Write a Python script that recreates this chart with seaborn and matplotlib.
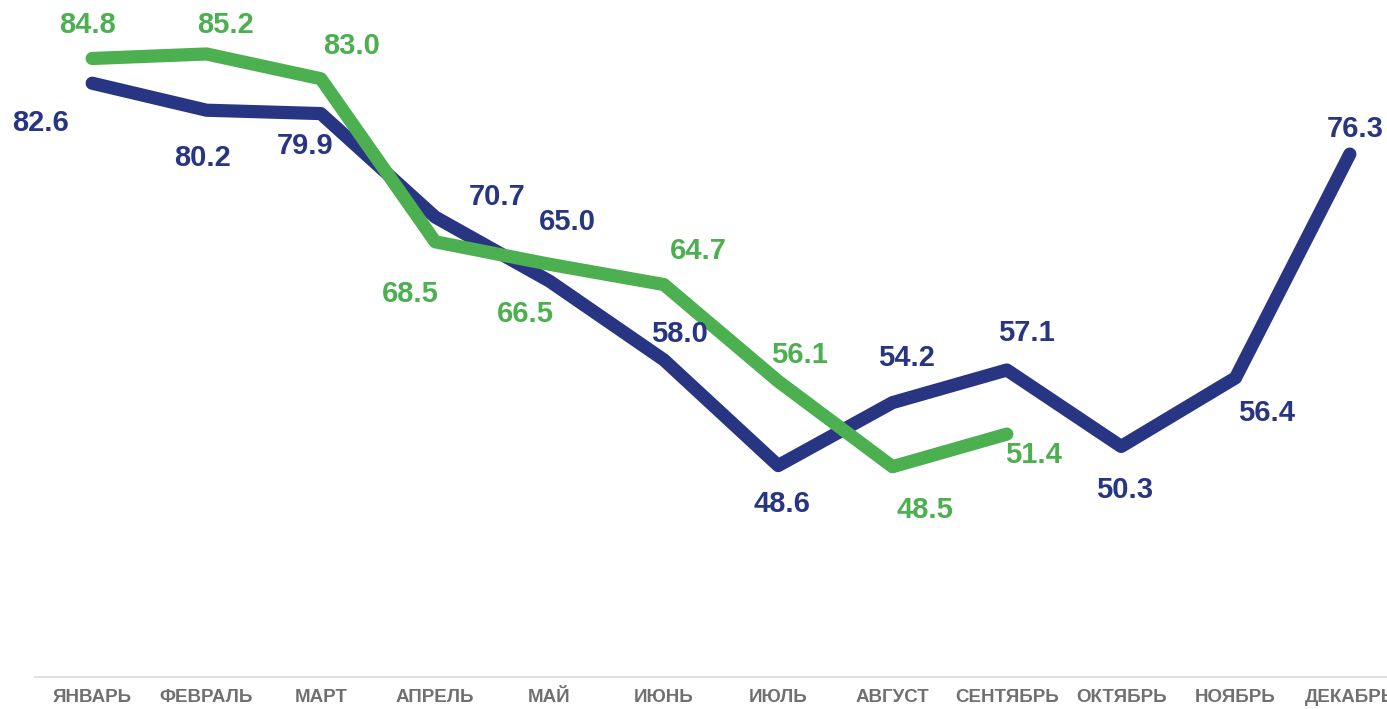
import pandas as pd
import seaborn as sns
import matplotlib.pyplot as plt

# Monthly values
months = ['ЯНВАРЬ', 'ФЕВРАЛЬ', 'МАРТ', 'АПРЕЛЬ', 'МАЙ', 'ИЮНЬ',
          'ИЮЛЬ', 'АВГУСТ', 'СЕНТЯБРЬ', 'ОКТЯБРЬ', 'НОЯБРЬ', 'ДЕКАБРЬ']
navy_values = [82.6, 80.2, 79.9, 70.7, 65.0, 58.0, 48.6, 54.2, 57.1, 50.3, 56.4, 76.3]
green_values = [84.8, 85.2, 83.0, 68.5, 66.5, 64.7, 56.1, 48.5, 51.4]

navy = '#283583'
green = '#4CAF50'

# label offsets in pixels (dx, dy) for each point
navy_offsets = [(-52, -40), (-4, -48), (-16, -32), (62, 20), (18, 59), (16, 26),
                (4, -38), (14, 45), (20, 37), (3, -44), (31, -35), (5, 25)]
green_offsets = [(-5, 33), (19, 29), (31, 33), (-25, -52), (-24, -50), (34, 34),
                 (21, 26), (32, -43), (27, -21)]

df = pd.concat([
    pd.DataFrame({'month': range(len(navy_values)), 'value': navy_values, 'series': 'navy'}),
    pd.DataFrame({'month': range(len(green_values)), 'value': green_values, 'series': 'green'}),
])

sns.set_style('white')
plt.rcParams['font.family'] = ['Liberation Sans', 'DejaVu Sans']

fig = plt.figure(figsize=(13.87, 7.09), dpi=100)
ax = fig.add_axes([35 / 1387, 32 / 709, 1372 / 1387, 677 / 709])

sns.lineplot(data=df, x='month', y='value', hue='series', hue_order=['navy', 'green'],
             palette=[navy, green], linewidth=9.5, legend=False, ax=ax,
             solid_capstyle='round', solid_joinstyle='round')

for vals, offs, col in [(navy_values, navy_offsets, navy), (green_values, green_offsets, green)]:
    for i, (v, (dx, dy)) in enumerate(zip(vals, offs)):
        ax.annotate(f'{v:.1f}', (i, v), xytext=(dx, dy), textcoords='offset pixels',
                    ha='center', va='center', fontsize=21, fontweight='bold', color=col,
                    annotation_clip=False)

ax.set_xlim(-0.5, 11.5)
ax.set_ylim(29.8, 90)
ax.set_xticks(range(len(months)))
ax.set_xticklabels(months, fontsize=13.5, fontweight='bold', color='#707070')
ax.tick_params(axis='x', length=0, pad=9)
ax.set_yticks([])
ax.set_xlabel(None)
ax.set_ylabel(None)
for side in ['top', 'left', 'right']:
    ax.spines[side].set_visible(False)
ax.spines['bottom'].set_color('#e0e0e0')
ax.spines['bottom'].set_linewidth(1.5)

fig.savefig('out.png', dpi=100)
